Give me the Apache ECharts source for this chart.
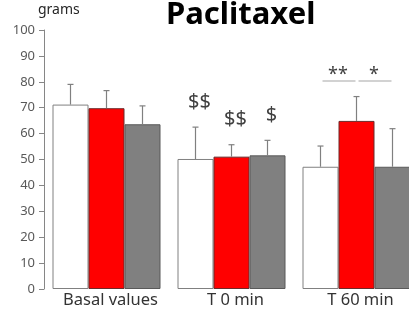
<!DOCTYPE html>
<html>
<head>
<meta charset="UTF-8">
<title>Paclitaxel</title>
<script src="https://cdn.jsdelivr.net/npm/echarts@6/dist/echarts.min.js"></script>
<style>
  html, body { margin: 0; padding: 0; background: #fff; overflow: hidden; }
  #chart { width: 420px; height: 310px; }
</style>
</head>
<body>
<div id="chart"></div>
<script>
// data
var categories = ['Basal values', 'T 0 min', 'T 60 min'];
var yTicks = [0, 10, 20, 30, 40, 50, 60, 70, 80, 90, 100];

var meanWhite = [71.2, 50.2, 47.2];
var meanRed   = [69.8, 51.1, 64.9];
var meanGray  = [63.6, 51.6, 47.2];

var sdWhite = [7.8, 12.3, 8.0];
var sdRed   = [6.8, 4.6, 9.4];
var sdGray  = [7.1, 5.8, 14.7];

// marks above bars: [category, bar, text]
var dollarMarks = [[1, 0, '$$'], [1, 1, '$$'], [1, 2, '$']];
// significance: [category, from bar, to bar, text]
var sigMarks = [[2, 0, 1, '**'], [2, 1, 2, '*']];

var BAR_FRAC = 0.288;
var means = [meanWhite, meanRed, meanGray];
var sds = [sdWhite, sdRed, sdGray];

function errTop(k, i) { return means[k][i] + sds[k][i]; }

function errRender(k) {
    return function (params, api) {
        var cat = api.value(0);
        var base = api.coord([cat, api.value(1)]);
        var top = api.coord([cat, api.value(2)]);
        var bw = api.size([1, 0])[0] * BAR_FRAC;
        var x = base[0] + (k - 1) * bw;
        var st = { stroke: '#808080', lineWidth: 1.2 };
        return {
            type: 'group',
            children: [
                { type: 'line', shape: { x1: x, y1: base[1], x2: x, y2: top[1] }, style: st },
                { type: 'line', shape: { x1: x - 3, y1: top[1], x2: x + 3, y2: top[1] }, style: st }
            ]
        };
    };
}

function errSeries(k) {
    var d = categories.map(function (c, i) { return [i, means[k][i], errTop(k, i)]; });
    return { type: 'custom', renderItem: errRender(k), data: d, z: 3, silent: true };
}

var dollarData = dollarMarks.map(function (m) {
    return [m[0], errTop(m[1], m[0]), m[1], m[2]];
});

var sigData = sigMarks.map(function (m) {
    var lv = Math.max(errTop(0, m[0]), errTop(1, m[0]), errTop(2, m[0])) + 6;
    return [m[0], lv, m[1], m[2], m[3]];
});

var chart = echarts.init(document.getElementById('chart'));
chart.setOption({
    animation: false,
    title: {
        text: 'Paclitaxel', left: 161, top: -5,
        textStyle: { fontFamily: 'Noto Sans', fontWeight: 'bold', fontSize: 31, color: '#000' }
    },
    graphic: [{
        type: 'text', left: 38, top: 3,
        style: { text: 'grams', font: '14px "Noto Sans"', fill: '#262626' }
    }],
    grid: { left: 44, top: 30, bottom: 21, width: 375 },
    xAxis: {
        type: 'category', data: categories,
        axisLine: { show: false }, axisTick: { show: false },
        axisLabel: { fontFamily: 'Noto Sans', fontSize: 16.5, color: '#333333', margin: 3,
                     padding: [0, 0, 0, 8] }
    },
    yAxis: {
        type: 'value', min: yTicks[0], max: yTicks[yTicks.length - 1], interval: 10,
        splitLine: { show: false },
        axisLine: { show: true, lineStyle: { color: '#868686' } },
        axisTick: { show: true, length: 5, lineStyle: { color: '#868686' } },
        axisLabel: { fontFamily: 'Noto Sans', fontSize: 13, color: '#595959', margin: 9 }
    },
    series: [
        { type: 'bar', data: meanWhite, barWidth: '28.8%', barGap: '0%',
          itemStyle: { color: '#ffffff', borderColor: '#808080', borderWidth: 1 } },
        { type: 'bar', data: meanRed, barWidth: '28.8%', barGap: '0%',
          itemStyle: { color: '#ff0000', borderColor: '#6b2a2a', borderWidth: 1 } },
        { type: 'bar', data: meanGray, barWidth: '28.8%', barGap: '0%',
          itemStyle: { color: '#808080', borderColor: '#595959', borderWidth: 1 } },
        errSeries(0), errSeries(1), errSeries(2),
        {
            type: 'custom', data: dollarData, z: 4, silent: true,
            renderItem: function (params, api) {
                var p = api.coord([api.value(0), api.value(1)]);
                var bw = api.size([1, 0])[0] * BAR_FRAC;
                var x = p[0] + (api.value(2) - 1) * bw + 4;
                return {
                    type: 'text',
                    style: {
                        x: x, y: p[1] - 25, text: dollarMarks[params.dataIndex][2],
                        font: '20px "Noto Sans"', fill: '#404040',
                        textAlign: 'center', textVerticalAlign: 'middle'
                    }
                };
            }
        },
        {
            type: 'custom', data: sigData, z: 4, silent: true,
            renderItem: function (params, api) {
                var p = api.coord([api.value(0), api.value(1)]);
                var bw = api.size([1, 0])[0] * BAR_FRAC;
                var x1 = p[0] + (api.value(2) - 1) * bw + 2;
                var x2 = p[0] + (api.value(3) - 1) * bw - 1;
                return {
                    type: 'group',
                    children: [
                        { type: 'line', shape: { x1: x1, y1: p[1], x2: x2, y2: p[1] },
                          style: { stroke: '#a6a6a6', lineWidth: 1.2 } },
                        { type: 'text', style: {
                            x: (x1 + x2) / 2 - 1, y: p[1] - 6, text: sigMarks[params.dataIndex][3],
                            font: '18px "Noto Sans"', fill: '#404040',
                            textAlign: 'center', textVerticalAlign: 'middle' } }
                    ]
                };
            }
        }
    ]
});
</script>
</body>
</html>
